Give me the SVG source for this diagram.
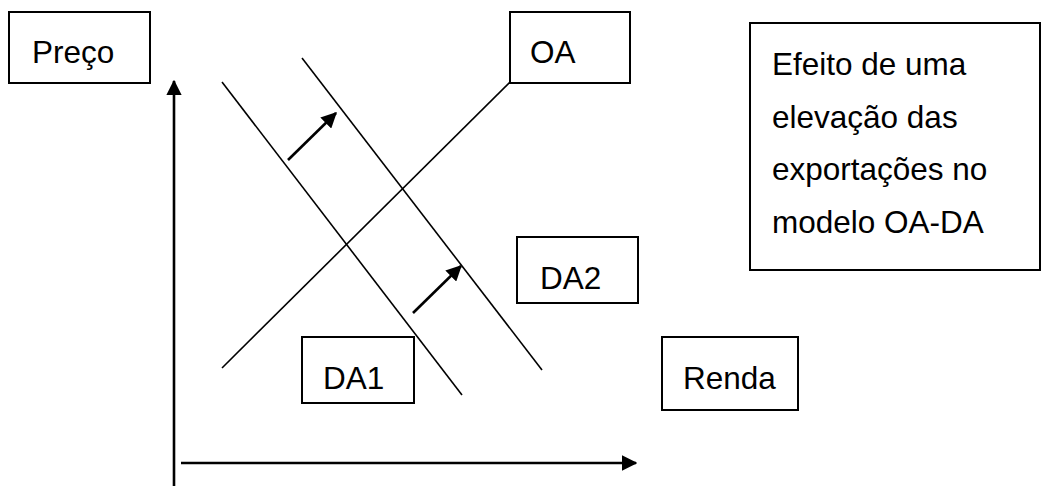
<svg xmlns="http://www.w3.org/2000/svg" width="1044" height="487" viewBox="0 0 1044 487">
<style>
.box{fill:#fff;stroke:#000;stroke-width:2}
.t{font-family:"Liberation Sans",Arial,sans-serif;font-size:31.5px;fill:#000}
.ln{stroke:#000;stroke-width:1.6;fill:none}
.ax{stroke:#000;stroke-width:2.6;fill:none}
</style>
<defs>
<marker id="ah" markerWidth="6" markerHeight="6" refX="5.5" refY="3" orient="auto" markerUnits="strokeWidth" viewBox="0 0 6 6">
<path d="M0,0 L6,3 L0,6 Z" fill="#000"/>
</marker>
</defs>
<rect width="1044" height="487" fill="#fff"/>
<g id="connectors">
<line class="ax" x1="174" y1="486" x2="174" y2="81" marker-end="url(#ah)"/>
<line class="ax" x1="181" y1="463" x2="636" y2="463" marker-end="url(#ah)"/>
<line class="ln" x1="222" y1="82" x2="462" y2="395"/>
<line class="ln" x1="302" y1="58" x2="542" y2="370"/>
<line class="ln" x1="222" y1="368" x2="510" y2="82"/>
<line class="ax" x1="288" y1="160" x2="336" y2="113" marker-end="url(#ah)"/>
<line class="ax" x1="413" y1="313" x2="461" y2="266" marker-end="url(#ah)"/>
</g>
<g id="preco"><rect class="box" x="9" y="12" width="141" height="71"/><text class="t" x="32" y="63">Preço</text></g>
<g id="oa"><rect class="box" x="510" y="12" width="120" height="71"/><text class="t" x="530" y="63">OA</text></g>
<g id="titulo"><rect class="box" x="750" y="23" width="290" height="247"/>
<text class="t" x="772" y="75">Efeito de uma</text>
<text class="t" x="772" y="128">elevação das</text>
<text class="t" x="772" y="180">exportações no</text>
<text class="t" x="772" y="233">modelo OA-DA</text></g>
<g id="da2"><rect class="box" x="517" y="237" width="121" height="66"/><text class="t" x="540" y="289">DA2</text></g>
<g id="da1"><rect class="box" x="302" y="337" width="112" height="66"/><text class="t" x="323" y="389">DA1</text></g>
<g id="renda"><rect class="box" x="662" y="337" width="136" height="73"/><text class="t" x="683" y="389">Renda</text></g>
</svg>
